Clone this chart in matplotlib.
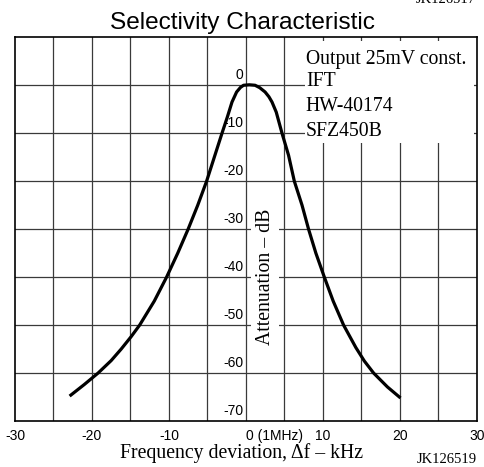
import matplotlib.pyplot as plt
from matplotlib.patches import Rectangle

# curve (kHz, dB)
freq = [-22.9, -21.0, -19.2, -17.5, -16.2, -14.9, -13.8, -11.9, -10.3, -8.85,
        -7.5, -6.25, -5.1, -4.1, -3.1, -2.4, -1.8, -1.2, -0.7, -0.3,
        0.45, 1.2, 1.8, 2.5, 3.0, 3.4, 3.95, 4.7, 5.55, 6.3,
        7.3, 8.15, 9.1, 10.2, 11.35, 12.7, 14.3, 15.4, 16.6, 18.4, 20.1]
atten = [-64.8, -62.4, -60.0, -57.4, -55.0, -52.4, -50.0, -45.0, -40.0, -35.0,
         -30.0, -25.0, -20.0, -15.0, -10.0, -6.6, -3.5, -1.4, -0.45, 0.0,
         0.1, 0.0, -0.5, -1.4, -2.4, -3.5, -5.6, -10.0, -14.6, -20.0,
         -25.0, -30.0, -35.0, -40.0, -45.0, -50.0, -54.7, -57.5, -60.0, -62.9, -65.2]

xticks = [-30, -20, -10, 0, 10, 20, 30]
xticklabels = ['-30', '-20', '-10', '0 (1MHz)', '10', '20', '30']
ylevels = [0, -10, -20, -30, -40, -50, -60, -70]
notes = ['Output 25mV const.', 'IFT', 'HW-40174', 'SFZ450B']
note_y = [4.5, -0.2, -5.3, -10.5]

serif = 'Liberation Serif'
sans = 'Liberation Sans'
SERIF_SIZE = 14.2

fig = plt.figure(figsize=(4.85, 4.67), dpi=100)
ax = fig.add_axes([0.0309, 0.0985, 0.952, 0.8216])
ax.set_xlim(-30, 30)
ax.set_ylim(-70, 10)

# grid
for x in range(-25, 30, 5):
    ax.axvline(x, color='#3a3a3a', lw=0.9, zorder=1)
for y in range(-60, 10, 10):
    ax.axhline(y, color='#3a3a3a', lw=0.9, zorder=1)

# white box behind the notes
ax.add_patch(Rectangle((7.7, -12.1), 21.9, 21.4, facecolor='white',
                       edgecolor='none', zorder=2))
for t, yy in zip(notes, note_y):
    ax.text(7.8, yy, t, family=serif, fontsize=SERIF_SIZE, va='baseline',
            ha='left', zorder=3)

ax.plot(freq, atten, color='black', lw=2.3, zorder=4,
        solid_joinstyle='round', solid_capstyle='butt')

for s in ax.spines.values():
    s.set_color('black')
    s.set_linewidth(1.2)
    s.set_zorder(5)

# y values written beside the centre line
for v in ylevels:
    ax.text(-0.35, v + 0.6, str(v), family=sans, fontsize=10, ha='right',
            va='bottom', zorder=3)

ax.text(2.5, -40, 'Attenuation \u2013 dB', family=serif, fontsize=SERIF_SIZE,
        rotation=90, ha='center', va='center', zorder=3,
        bbox=dict(facecolor='white', edgecolor='none', pad=3))

ax.set_yticks([])
ax.set_xticks(xticks)
ax.set_xticklabels(xticklabels, family=sans, fontsize=10)
ax.tick_params(axis='x', length=0, pad=6)
ax.get_xticklabels()[3].set_ha('left')

fig.text(0.5, 0.937, 'Selectivity Characteristic', family=sans, fontsize=17.6,
         ha='center', va='baseline')
fig.text(0.498, 0.019, 'Frequency deviation, \u0394f \u2013 kHz',
         family=serif, fontsize=SERIF_SIZE, ha='center', va='baseline')
fig.text(0.9206, 0.0086, 'JK126519', family=serif, fontsize=10.5,
         ha='center', va='baseline')
fig.text(0.92, 0.994, 'JK126517', family=serif, fontsize=10.5,
         ha='center', va='baseline')

fig.savefig('out.png', dpi=100)
